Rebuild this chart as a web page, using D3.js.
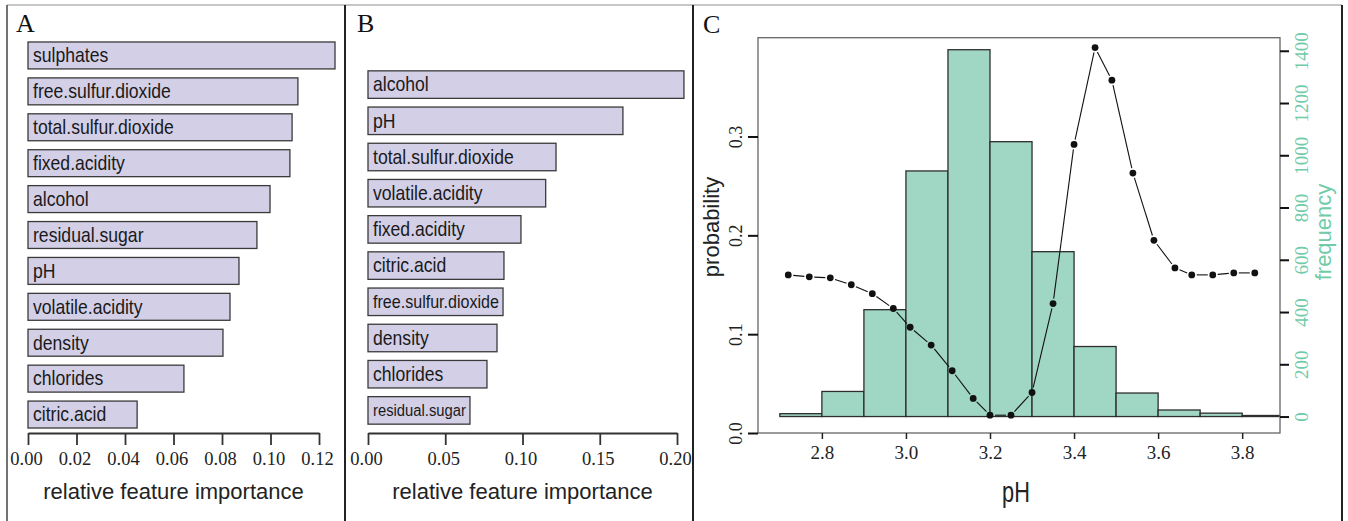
<!DOCTYPE html>
<html>
<head>
<meta charset="utf-8">
<script src="https://cdn.jsdelivr.net/npm/d3@7"></script>
<style>
  body { margin: 0; background: #fff; }
  svg { display: block; }
</style>
</head>
<body>
<svg id="fig" width="1348" height="521"></svg>
<script>
// panel A: feature importance (first model)
const featuresA = ["sulphates", "free.sulfur.dioxide", "total.sulfur.dioxide", "fixed.acidity",
  "alcohol", "residual.sugar", "pH", "volatile.acidity", "density", "chlorides", "citric.acid"];
const importanceA = [0.1266, 0.1113, 0.1089, 0.108, 0.0998, 0.0944, 0.087, 0.0833, 0.0804, 0.0643, 0.045];
const ticksA = [0, 0.02, 0.04, 0.06, 0.08, 0.10, 0.12];

// panel B: feature importance (second model)
const featuresB = ["alcohol", "pH", "total.sulfur.dioxide", "volatile.acidity", "fixed.acidity",
  "citric.acid", "free.sulfur.dioxide", "density", "chlorides", "residual.sugar"];
const importanceB = [0.2045, 0.165, 0.1217, 0.115, 0.099, 0.088, 0.0874, 0.0835, 0.077, 0.066];
const ticksB = [0, 0.05, 0.10, 0.15, 0.20];

// panel C: pH histogram + probability curve
const phBinEdges = [2.7, 2.8, 2.9, 3.0, 3.1, 3.2, 3.3, 3.4, 3.5, 3.6, 3.7, 3.8, 3.9];
const phFreq = [11, 96, 409, 940, 1404, 1052, 631, 268, 90, 25, 13, 4];
const phGrid = [2.72, 2.77, 2.82, 2.87, 2.92, 2.97, 3.01, 3.06, 3.11, 3.16, 3.20, 3.25,
  3.30, 3.35, 3.40, 3.45, 3.49, 3.54, 3.59, 3.64, 3.68, 3.73, 3.78, 3.83];
const probability = [0.160, 0.158, 0.157, 0.150, 0.141, 0.126, 0.107, 0.089, 0.063, 0.035, 0.018, 0.018,
  0.041, 0.131, 0.292, 0.390, 0.357, 0.263, 0.195, 0.167, 0.160, 0.160, 0.162, 0.162];
const phTicks = [2.8, 3.0, 3.2, 3.4, 3.6, 3.8];
const probTicks = [0.0, 0.1, 0.2, 0.3];
const freqTicks = [0, 200, 400, 600, 800, 1000, 1200, 1400];

const SERIF = "'Liberation Serif', 'DejaVu Serif', serif";
const SANS = "'Liberation Sans', Arial, sans-serif";
const barFill = "#d3cfe7";
const histFill = "#a0d6c4";
const green = "#6fcba8";

const svg = d3.select("#fig");

// frame lines
svg.append("line").attr("x1", 7).attr("x2", 1342).attr("y1", 5).attr("y2", 5)
  .attr("stroke", "#b5b5b5").attr("stroke-width", 1.5);
svg.append("line").attr("x1", 7).attr("x2", 7).attr("y1", 5).attr("y2", 521)
  .attr("stroke", "#444").attr("stroke-width", 1.5);
[345, 693, 1342].forEach(x => {
  svg.append("line").attr("x1", x).attr("x2", x).attr("y1", 5).attr("y2", 521)
    .attr("stroke", "#222").attr("stroke-width", 2);
});

// panel letters
[["A", 16, 32], ["B", 357, 32], ["C", 703, 33]].forEach(([t, x, y]) => {
  svg.append("text").attr("x", x).attr("y", y).text(t)
    .attr("font-family", SERIF).attr("font-size", 26).attr("fill", "#111");
});

function importancePanel(features, values, ticks, xRange, yRange, padIn, padOut) {
  const x = d3.scaleLinear().domain([ticks[0], ticks[ticks.length - 1]]).range(xRange);
  const y = d3.scaleBand().domain(features).range(yRange).paddingInner(padIn).paddingOuter(padOut);
  const g = svg.append("g");

  const bar = g.selectAll("g.bar").data(features).join("g").attr("class", "bar");
  bar.append("rect")
    .attr("x", x(0))
    .attr("y", d => y(d))
    .attr("width", (d, i) => x(values[i]) - x(0))
    .attr("height", y.bandwidth())
    .attr("fill", barFill).attr("stroke", "#3a3a3a").attr("stroke-width", 1.3);

  // labels sit inside the bar, squeezed a bit like the original
  const sx = 0.88;
  bar.each(function (d, i) {
    const bw = x(values[i]) - x(0);
    const cy = y(d) + y.bandwidth() / 2;
    const t = d3.select(this).append("text").text(d)
      .attr("font-family", SANS).attr("font-size", 20).attr("fill", "#1a1a1a")
      .attr("dy", "0.34em")
      .attr("transform", `translate(${x(0) + 5},${cy}) scale(${sx},1)`);
    const w = t.node().getComputedTextLength() * sx;
    if (w > bw - 9) t.attr("font-size", 20 * (bw - 9) / w);
  });

  const ax = g.append("g").attr("transform", "translate(0,433)")
    .call(d3.axisBottom(x).tickValues(ticks).tickSize(12).tickSizeOuter(0)
      .tickFormat(d3.format(".2f")));
  ax.select(".domain").attr("stroke", "#333").attr("stroke-width", 1.8);
  ax.selectAll(".tick line").attr("stroke", "#333").attr("stroke-width", 1.8);
  ax.selectAll(".tick text").attr("y", 19).attr("dy", "0.71em").attr("dx", -2)
    .attr("font-family", SERIF).attr("font-size", 18.5).attr("fill", "#222");

  g.append("text").attr("x", (xRange[0] + xRange[1]) / 2).attr("y", 499)
    .attr("text-anchor", "middle").attr("font-family", SANS).attr("font-size", 22)
    .attr("fill", "#222").text("relative feature importance");
}

importancePanel(featuresA, importanceA, ticksA, [28, 319], [37.5, 432.5], 0.25, 0.125);
importancePanel(featuresB, importanceB, ticksB, [368, 677], [66.5, 428.5], 0.24, 0.12);

// ---- panel C ----
const box = { left: 758, right: 1280, top: 37.7, bottom: 433 };
const xC = d3.scaleLinear().domain([2.648, 3.89]).range([box.left, box.right]);
const yProb = d3.scaleLinear().domain([0, 0.4]).range([box.bottom, box.top]);
const yFreq = d3.scaleLinear().domain([-63, 1450]).range([box.bottom, box.top]);

const gC = svg.append("g");
gC.append("clipPath").attr("id", "clipC").append("rect")
  .attr("x", box.left).attr("y", box.top)
  .attr("width", box.right - box.left).attr("height", box.bottom - box.top);

gC.append("g").attr("clip-path", "url(#clipC)")
  .selectAll("rect").data(phFreq).join("rect")
  .attr("x", (d, i) => xC(phBinEdges[i]))
  .attr("width", (d, i) => xC(phBinEdges[i + 1]) - xC(phBinEdges[i]))
  .attr("y", d => yFreq(d))
  .attr("height", d => yFreq(0) - yFreq(d))
  .attr("fill", histFill).attr("stroke", "#2e2e2e").attr("stroke-width", 1.3);

gC.append("rect").attr("x", box.left).attr("y", box.top)
  .attr("width", box.right - box.left).attr("height", box.bottom - box.top)
  .attr("fill", "none").attr("stroke", "#666").attr("stroke-width", 1.3);

// probability curve, R type="b": segments stop short of the points
const pts = phGrid.map((p, i) => [xC(p), yProb(probability[i])]);
const gap = 5;
const segs = d3.pairs(pts).map(([a, b]) => {
  const dx = b[0] - a[0], dy = b[1] - a[1];
  const len = Math.hypot(dx, dy);
  if (len <= 2 * gap) return null;
  const ux = dx / len, uy = dy / len;
  return [a[0] + ux * gap, a[1] + uy * gap, b[0] - ux * gap, b[1] - uy * gap];
}).filter(s => s);
gC.append("g").selectAll("line").data(segs).join("line")
  .attr("x1", d => d[0]).attr("y1", d => d[1]).attr("x2", d => d[2]).attr("y2", d => d[3])
  .attr("stroke", "#111").attr("stroke-width", 1.1);
gC.append("g").selectAll("circle").data(pts).join("circle")
  .attr("cx", d => d[0]).attr("cy", d => d[1]).attr("r", 3.4).attr("fill", "#111");

// axes
const axX = gC.append("g").attr("transform", `translate(0,${box.bottom})`)
  .call(d3.axisBottom(xC).tickValues(phTicks).tickSize(6).tickFormat(d3.format(".1f")));
axX.select(".domain").remove();
axX.selectAll(".tick line").attr("stroke", "#222").attr("stroke-width", 1.5);
axX.selectAll(".tick text").attr("y", 13).attr("dy", "0.71em")
  .attr("font-family", SERIF).attr("font-size", 19).attr("fill", "#222");

const axL = gC.append("g").attr("transform", `translate(${box.left},0)`)
  .call(d3.axisLeft(yProb).tickValues(probTicks).tickSize(10).tickFormat(d3.format(".1f")));
axL.select(".domain").remove();
axL.selectAll(".tick line").attr("stroke", "#111").attr("stroke-width", 2);
axL.selectAll(".tick text")
  .attr("x", null).attr("dy", null)
  .attr("transform", "translate(-16,0) rotate(-90)")
  .attr("text-anchor", "middle")
  .attr("font-family", SERIF).attr("font-size", 18).attr("fill", "#222");

const axR = gC.append("g").attr("transform", `translate(${box.right},0)`)
  .call(d3.axisRight(yFreq).tickValues(freqTicks).tickSize(9).tickFormat(d3.format("d")));
axR.select(".domain").remove();
axR.selectAll(".tick line").attr("stroke", "#111").attr("stroke-width", 2);
axR.selectAll(".tick text")
  .attr("x", null).attr("dy", null)
  .attr("transform", "translate(28,0) rotate(-90)")
  .attr("text-anchor", "middle")
  .attr("font-family", SERIF).attr("font-size", 19).attr("fill", green);

gC.append("text").attr("transform", "translate(1016,502) scale(0.75,1)")
  .attr("text-anchor", "middle").attr("font-family", SANS).attr("font-size", 29)
  .attr("fill", "#222").text("pH");
gC.append("text").attr("transform", "translate(719,227) rotate(-90)")
  .attr("text-anchor", "middle").attr("font-family", SANS).attr("font-size", 22)
  .attr("fill", "#222").text("probability");
gC.append("text").attr("transform", "translate(1331,232) rotate(-90)")
  .attr("text-anchor", "middle").attr("font-family", SANS).attr("font-size", 22)
  .attr("fill", green).text("frequency");
</script>
</body>
</html>
